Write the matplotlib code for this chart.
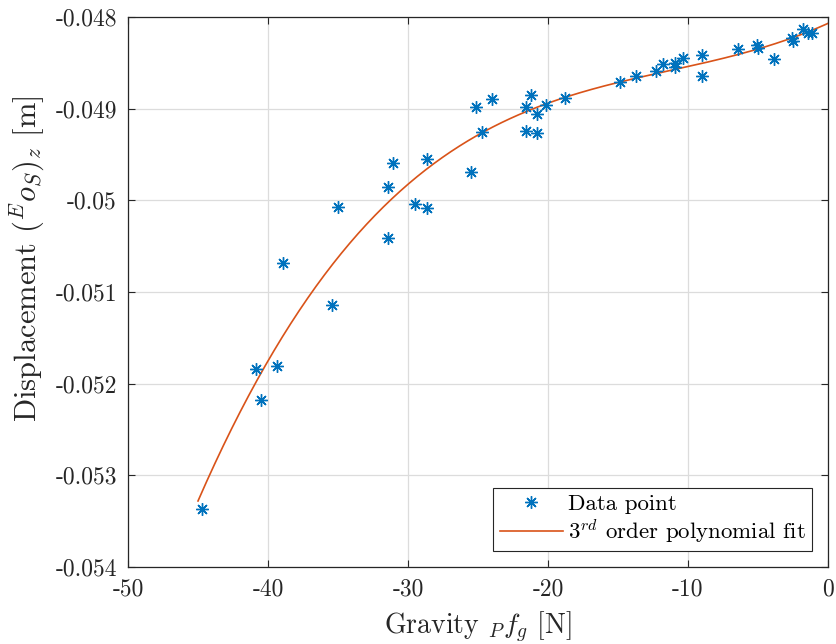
import numpy as np
import matplotlib
matplotlib.use("Agg")
import matplotlib.pyplot as plt

plt.rcParams['font.family'] = ['cmr10', 'DejaVu Serif']
plt.rcParams['mathtext.fontset'] = 'cm'
plt.rcParams['axes.unicode_minus'] = False
plt.rcParams['axes.formatter.use_mathtext'] = True

gravity = [-44.74, -40.84, -40.48, -39.34, -38.91, -35.41, -34.98, -31.45,
           -31.41, -31.05, -29.48, -28.66, -28.66, -25.52, -25.16, -24.69,
           -23.98, -21.59, -21.59, -21.21, -20.76, -20.76, -20.16, -18.81,
           -14.86, -13.71, -12.29, -11.79, -10.93, -10.93, -10.38, -8.98,
           -8.98, -6.45, -5.07, -5.00, -3.88, -2.55, -2.48, -1.76, -1.41, -1.17]
displacement = [-0.05337, -0.051837, -0.052181, -0.051807, -0.050687, -0.051142,
                -0.050069, -0.050414, -0.049851, -0.049596, -0.050043, -0.049552,
                -0.050087, -0.049694, -0.048985, -0.049258, -0.048891, -0.048985,
                -0.04924, -0.048848, -0.049061, -0.049269, -0.04896, -0.04888,
                -0.048709, -0.048644, -0.048586, -0.048509, -0.048499, -0.048542,
                -0.048451, -0.048415, -0.04864, -0.048346, -0.048305, -0.048338,
                -0.048458, -0.048232, -0.048259, -0.048134, -0.048178, -0.048178]

xticks = [-50, -40, -30, -20, -10, 0]
xticklabels = ['-50', '-40', '-30', '-20', '-10', '0']
yticks = [-0.054, -0.053, -0.052, -0.051, -0.05, -0.049, -0.048]
yticklabels = ['-0.054', '-0.053', '-0.052', '-0.051', '-0.05', '-0.049', '-0.048']

# 3rd order polynomial fit of the data
coef = np.polyfit(gravity, displacement, 3)
xfit = np.linspace(-45, 0, 300)
yfit = np.polyval(coef, xfit)

fig = plt.figure(figsize=(8.37, 6.44), dpi=100)
ax = fig.add_axes([128/837, 77/644, 700/837, 550/644])

ax.plot(gravity, displacement, linestyle='none', marker=(8, 2, 0), markersize=9,
        markeredgewidth=1.0, color='#0072BD', label='Data point', zorder=3)
ax.plot(xfit, yfit, color='#D95319', linewidth=1.2,
        label='$3^{rd}$ order polynomial fit', zorder=2)

ax.set_xlim(-50, 0)
ax.set_ylim(-0.054, -0.048)
ax.set_xticks(xticks)
ax.set_xticklabels(xticklabels)
ax.set_yticks(yticks)
ax.set_yticklabels(yticklabels)
ax.tick_params(direction='in', top=True, right=True, length=5, width=0.8,
               labelsize=17, colors='#262626', pad=8)
for s in ax.spines.values():
    s.set_color('#262626')
    s.set_linewidth(0.9)
ax.grid(True, color='#dcdcdc', linewidth=0.9)
ax.set_axisbelow(True)

ax.set_xlabel(r'Gravity ${}_{P}f_{g}$ [N]', fontsize=20, color='#262626', labelpad=7)
ax.set_ylabel(r'Displacement $({}^{E}o_{S})_{z}$ [m]', fontsize=22, color='#262626')
ax.yaxis.set_label_coords(-0.117, 0.56)

leg = ax.legend(loc='lower right', fontsize=16.5, frameon=True, fancybox=False,
                edgecolor='#262626', framealpha=1, borderaxespad=0.7,
                handlelength=2.75, handletextpad=0.22, borderpad=0.28,
                labelspacing=0.1)
leg.get_frame().set_linewidth(0.8)

fig.savefig('out.png', dpi=100)
